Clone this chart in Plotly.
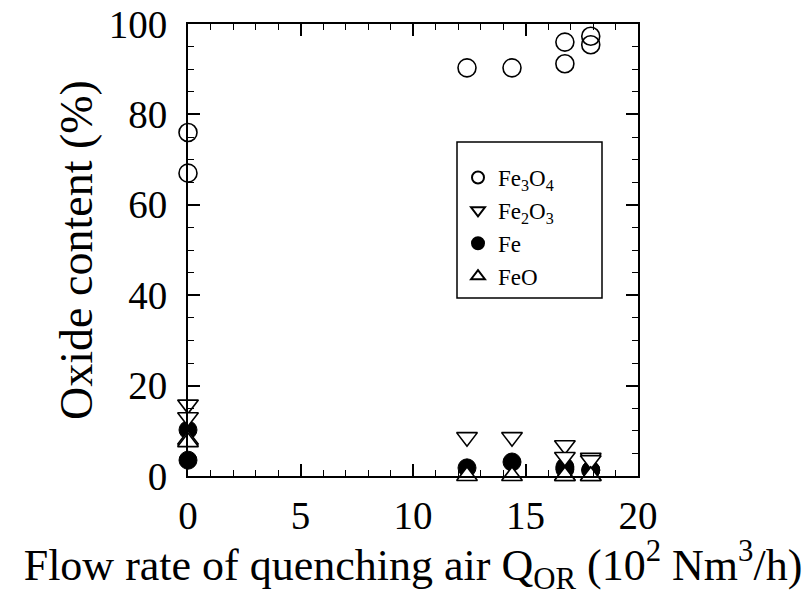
import plotly.graph_objects as go

# Data (x: flow rate of quenching air, 10^2 Nm3/h ; y: oxide content %)
x_fe3o4 = [0, 0, 12.4, 14.4, 16.75, 16.75, 17.9, 17.9]
y_fe3o4 = [76, 67, 90.3, 90.3, 96.0, 91.2, 97.3, 95.4]

x_fe2o3 = [0, 0, 12.4, 14.4, 16.75, 16.75, 17.9, 17.9]
y_fe2o3 = [15.8, 13.0, 8.6, 8.6, 6.8, 4.2, 4.0, 3.5]

x_fe = [0, 0, 12.4, 14.4, 16.75, 16.75, 17.9, 17.9]
y_fe = [10.2, 3.5, 1.8, 3.1, 1.5, 2.0, 1.3, 1.3]

x_feo = [0, 0, 12.4, 14.4, 16.75, 16.75, 17.9, 17.9]
y_feo = [8.0, 7.5, 0, 0, 0, 0, 0, 0]

names = ["Fe<sub>3</sub>O<sub>4</sub>", "Fe<sub>2</sub>O<sub>3</sub>", "Fe", "FeO"]

FONT = "Liberation Serif, Times New Roman, serif"
MS = 18

fig = go.Figure()
fig.add_trace(go.Scatter(x=x_fe3o4, y=y_fe3o4, mode="markers", name=names[0],
                         legendrank=1, legendgroup="a", cliponaxis=False,
                         marker=dict(symbol="circle-open", size=MS, color="black",
                                     line=dict(width=1.6, color="black"))))
fig.add_trace(go.Scatter(x=x_fe, y=y_fe, mode="markers", name=names[2],
                         legendrank=3, legendgroup="c", cliponaxis=False,
                         marker=dict(symbol="circle", size=MS, color="black",
                                     line=dict(width=1, color="black"))))
fig.add_trace(go.Scatter(x=x_fe2o3, y=y_fe2o3, mode="markers", name=names[1],
                         legendrank=2, legendgroup="b", cliponaxis=False,
                         marker=dict(symbol="triangle-down", size=MS, color="white",
                                     line=dict(width=1.6, color="black"))))
fig.add_trace(go.Scatter(x=x_feo, y=y_feo, mode="markers", name=names[3],
                         legendrank=4, legendgroup="d", cliponaxis=False,
                         marker=dict(symbol="triangle-up", size=MS, color="white",
                                     line=dict(width=1.6, color="black"))))

axis_common = dict(
    showline=True, linecolor="black", linewidth=2, mirror="allticks",
    ticks="inside", ticklen=12, tickwidth=1.5, tickcolor="black",
    showgrid=False, zeroline=False,
    tickfont=dict(family=FONT, size=39, color="black"),
)

fig.update_xaxes(range=[0, 20], dtick=5, tick0=0, ticklabelstandoff=4,
                 minor=dict(dtick=1, ticks="inside", ticklen=6, tickwidth=1.2, tickcolor="black"),
                 title=dict(text="Flow rate of quenching air Q<sub>OR</sub> (10<sup>2</sup> Nm<sup>3</sup>/h)",
                            font=dict(family=FONT, size=44, color="black"), standoff=6),
                 **axis_common)
fig.update_yaxes(range=[0, 100], dtick=20, tick0=0, ticklabelstandoff=11,
                 minor=dict(dtick=5, ticks="inside", ticklen=6, tickwidth=1.2, tickcolor="black"),
                 title=dict(text="Oxide content (%)",
                            font=dict(family=FONT, size=46, color="black"), standoff=2),
                 **axis_common)

fig.add_shape(type="rect", xref="paper", yref="paper",
              x0=(457 - 188) / 450, x1=(602 - 188) / 450,
              y0=(476 - 298) / 452, y1=(476 - 142) / 452,
              line=dict(color="black", width=1.5), fillcolor="rgba(0,0,0,0)")

fig.update_layout(
    width=807, height=596,
    margin=dict(l=188, r=169, t=24, b=120, autoexpand=False),
    paper_bgcolor="white", plot_bgcolor="white",
    font=dict(family=FONT, color="black"),
    legend=dict(x=(458 - 188) / 450, y=(476 - 156) / 452, xanchor="left", yanchor="top",
                bgcolor="rgba(0,0,0,0)", borderwidth=0,
                font=dict(family=FONT, size=23, color="black"),
                itemsizing="constant", traceorder="grouped", tracegroupgap=0),
)

fig.write_html("out.html")
